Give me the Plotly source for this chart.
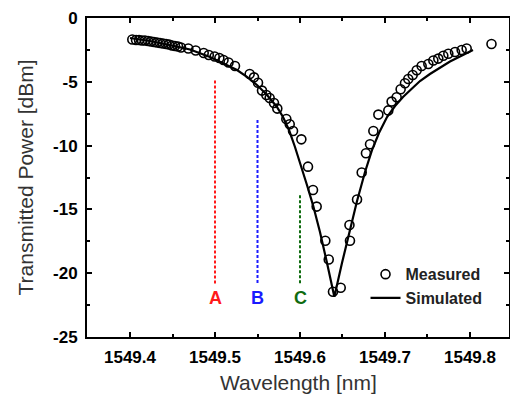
import plotly.graph_objects as go

# ---- data ----
measured_wl = [1549.4027, 1549.4071, 1549.4106, 1549.4141, 1549.4176, 1549.4212, 1549.4247, 1549.4282,
               1549.4318, 1549.4353, 1549.4388, 1549.4424, 1549.4459, 1549.4494, 1549.4529, 1549.4565,
               1549.4600, 1549.4686, 1549.4773, 1549.4867, 1549.4927, 1549.4996, 1549.5051, 1549.5100,
               1549.5159, 1549.5235, 1549.5408, 1549.5459, 1549.5506, 1549.5553, 1549.5604, 1549.5643,
               1549.5694, 1549.5733, 1549.5839, 1549.5879, 1549.5918, 1549.6016, 1549.6094, 1549.6153,
               1549.6196, 1549.6298, 1549.6338, 1549.6388, 1549.6479, 1549.6582, 1549.6588, 1549.6671,
               1549.6726, 1549.6776, 1549.6824, 1549.6863, 1549.6922, 1549.7039, 1549.7078, 1549.7137,
               1549.7184, 1549.7235, 1549.7274, 1549.7326, 1549.7373, 1549.7431, 1549.7510, 1549.7569,
               1549.7627, 1549.7686, 1549.7745, 1549.7824, 1549.7902, 1549.7961, 1549.8253]
measured_db = [-1.69, -1.72, -1.72, -1.76, -1.76, -1.80, -1.84, -1.88, -1.92, -1.96, -2.00, -2.04,
               -2.08, -2.16, -2.19, -2.23, -2.31, -2.39, -2.55, -2.74, -2.90, -3.02, -3.13, -3.29,
               -3.49, -3.76, -4.39, -4.65, -5.07, -5.69, -6.03, -6.27, -6.66, -7.10, -7.92, -8.33,
               -8.86, -9.51, -11.65, -13.48, -14.78, -17.46, -18.93, -21.45, -21.14, -16.22, -17.46,
               -14.22, -12.11, -10.60, -9.90, -8.86, -7.57, -7.24, -6.55, -6.21, -5.58, -5.11, -4.78,
               -4.47, -4.10, -3.76, -3.61, -3.33, -3.18, -2.96, -2.80, -2.66, -2.51, -2.39, -2.04]

sim_wl = [1549.4000, 1549.4235, 1549.4471, 1549.4706, 1549.4941, 1549.5118, 1549.5259, 1549.5376,
          1549.5494, 1549.5612, 1549.5729, 1549.5800, 1549.5871, 1549.5941, 1549.6012, 1549.6082,
          1549.6153, 1549.6235, 1549.6318, 1549.6404, 1549.6494, 1549.6588, 1549.6671, 1549.6765,
          1549.6847, 1549.6929, 1549.7024, 1549.7118, 1549.7212, 1549.7318, 1549.7412, 1549.7529,
          1549.7647, 1549.7765, 1549.7882, 1549.8035]
sim_db = [-1.57, -1.80, -2.12, -2.47, -3.06, -3.60, -4.08, -4.62, -5.25, -6.03, -6.97, -7.76,
          -8.78, -10.11, -11.52, -13.09, -14.66, -16.77, -19.20, -21.84, -19.20, -16.54, -14.34,
          -12.07, -10.35, -9.01, -7.76, -6.90, -6.19, -5.53, -4.94, -4.39, -3.88, -3.41, -3.02, -2.51]

marker_names = ["A", "B", "C"]
marker_wl = [1549.50, 1549.55, 1549.60]
marker_top = [-4.9, -8.0, -13.9]
marker_bottom = [-20.8, -20.8, -20.8]
marker_label_y = [-21.95, -21.95, -21.95]
marker_colors = ["#ff1a1a", "#1a1aff", "#0f6b0f"]

x_tickvals = [1549.4, 1549.5, 1549.6, 1549.7, 1549.8]
x_ticktext = ["1549.4", "1549.5", "1549.6", "1549.7", "1549.8"]
y_tickvals = [0, -5, -10, -15, -20, -25]
y_ticktext = ["0", "-5", "-10", "-15", "-20", "-25"]

FONT = "Liberation Sans, Arial, sans-serif"

fig = go.Figure()

# vertical dashed marker lines
for name, wl, top, bot, col in zip(marker_names, marker_wl, marker_top, marker_bottom, marker_colors):
    fig.add_trace(go.Scatter(x=[wl, wl], y=[top, bot], mode="lines",
                             line=dict(color=col, width=2, dash="3px,2px"),
                             showlegend=False, hoverinfo="skip"))

fig.add_trace(go.Scatter(x=measured_wl, y=measured_db, mode="markers", name="Measured",
                         marker=dict(symbol="circle-open", size=9, color="black",
                                     line=dict(width=1.6, color="black"))))
fig.add_trace(go.Scatter(x=sim_wl, y=sim_db, mode="lines", name="Simulated",
                         line=dict(color="black", width=2.2)))

for name, wl, ly, col in zip(marker_names, marker_wl, marker_label_y, marker_colors):
    fig.add_annotation(x=wl, y=ly, text="<b>%s</b>" % name, showarrow=False,
                       font=dict(family=FONT, size=18, color=col), xanchor="center", yanchor="middle")

# axis titles as paper-anchored annotations
fig.add_annotation(x=0.5, y=0, xref="paper", yref="paper", yshift=-45, text="Wavelength [nm]",
                   showarrow=False, xanchor="center", yanchor="middle",
                   font=dict(family=FONT, size=21, color="#333333"))
fig.add_annotation(x=0, y=0.5, xref="paper", yref="paper", xshift=-62, text="Transmitted Power [dBm]",
                   showarrow=False, xanchor="center", yanchor="middle", textangle=-90,
                   font=dict(family=FONT, size=21, color="#333333"))

axis_common = dict(showline=True, linecolor="black", linewidth=2, mirror="ticks",
                   ticks="inside", ticklen=5, tickwidth=1.5, tickcolor="black",
                   showgrid=False, zeroline=False, automargin=False,
                   tickfont=dict(family=FONT, size=17, color="black", weight="bold"))

fig.update_xaxes(range=[1549.3494, 1549.8459], tickvals=x_tickvals, ticktext=x_ticktext,
                 minor=dict(ticks="inside", ticklen=3, tickwidth=1.5, tickcolor="black", dtick=0.05,
                            tick0=1549.35, showgrid=False),
                 ticklabelstandoff=4, **axis_common)
fig.update_yaxes(range=[-25, 0], tickvals=y_tickvals, ticktext=y_ticktext,
                 minor=dict(ticks="inside", ticklen=3, tickwidth=1.5, tickcolor="black", dtick=2.5,
                            tick0=0, showgrid=False),
                 ticklabelstandoff=4, **axis_common)

fig.update_layout(
    width=510, height=395,
    margin=dict(l=87, r=1, t=18, b=58, autoexpand=False),
    plot_bgcolor="white", paper_bgcolor="white",
    legend=dict(x=0.66, y=0.25, xanchor="left", yanchor="top", bgcolor="rgba(0,0,0,0)",
                itemwidth=30, tracegroupgap=0,
                font=dict(family=FONT, size=16, color="#222222", weight="bold")),
    showlegend=True,
)

fig.write_html("out.html", config={"displayModeBar": False},
               post_script="document.body.style.margin='0';document.body.style.overflow='hidden';")
